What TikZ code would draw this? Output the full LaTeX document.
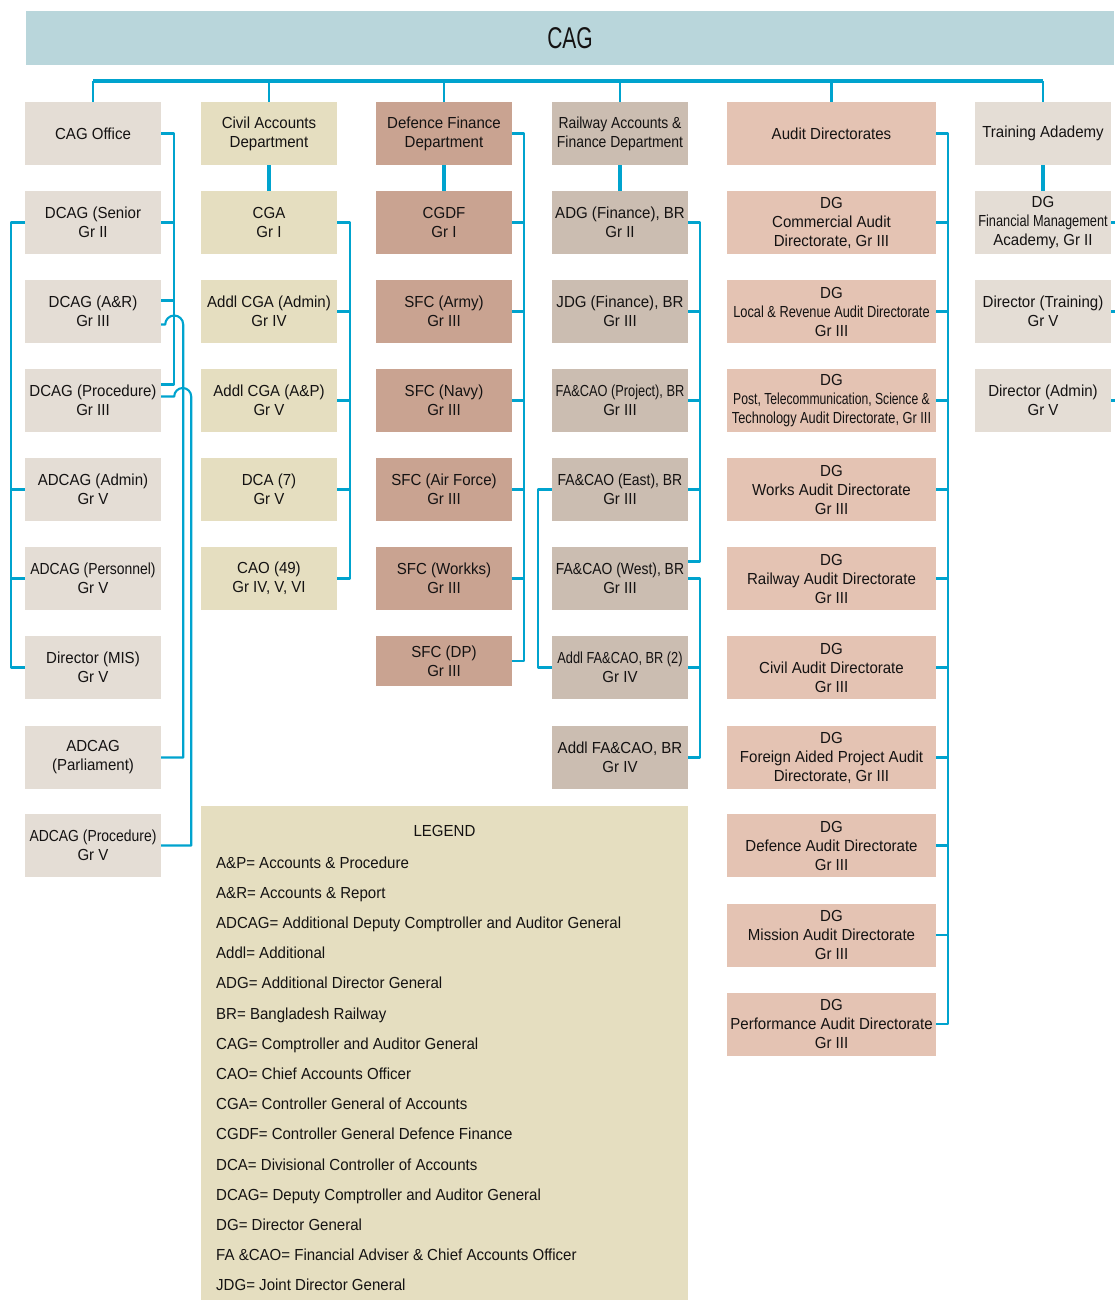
\documentclass[tikz,border=0pt]{standalone}
\usepackage{fontspec}
\setmainfont[FakeStretch=0.94]{Liberation Sans}
\newfontfamily\narfont[FakeStretch=0.8]{Liberation Sans}
\newfontfamily\tightfont[FakeStretch=0.76]{Liberation Sans}
\newfontfamily\midfont[FakeStretch=0.87]{Liberation Sans}
\newfontfamily\cagfont[FakeStretch=0.7]{Liberation Sans}
\usetikzlibrary{calc}
\definecolor{cagblue}{RGB}{185,214,219}
\definecolor{officegrey}{RGB}{228,221,213}
\definecolor{civilcream}{RGB}{229,222,192}
\definecolor{defbrown}{RGB}{201,163,145}
\definecolor{railgrey}{RGB}{203,189,177}
\definecolor{auditpink}{RGB}{228,195,179}
\definecolor{linkblue}{RGB}{0,163,206}
\definecolor{txt}{RGB}{20,18,18}

\begin{document}
\begin{tikzpicture}[x=1pt, y=1pt, font=\fontsize{16}{19}\selectfont, line join=round,
	box/.style={minimum width=136, minimum height=63, inner sep=0, align=center, text=txt},
	widebox/.style={box, minimum width=209},
	link/.style={draw=linkblue, line width=2.1},
	trunk/.style={draw=linkblue, line width=4.2},
	bus/.style={draw=linkblue, line width=3.8}]
	\def\ca{93} \def\cb{269} \def\cc{444} \def\cd{620} \def\ce{831.5} \def\cf{1043}
	\useasboundingbox (0,0) rectangle (1114,-1300);
	\node[fill=cagblue, minimum width=1088, minimum height=54, inner sep=0, text=txt, font=\cagfont\fontsize{30}{30}\selectfont] (cag) at (570,-38) {CAG};
	
	\node[box, fill=officegrey] (cagoff) at (\ca,-133.5) {CAG Office};
	\node[box, fill=officegrey] (dcags) at (\ca,-222.5) {DCAG (Senior\\Gr II};
	\node[box, fill=officegrey] (dcagar) at (\ca,-311.5) {DCAG (A\&R)\\Gr III};
	\node[box, fill=officegrey] (dcagpro) at (\ca,-400.5) {DCAG (Procedure)\\Gr III};
	\node[box, fill=officegrey] (adcagadm) at (\ca,-489.5) {ADCAG (Admin)\\Gr V};
	\node[box, fill=officegrey] (adcagpers) at (\ca,-578.5) {{\midfont ADCAG (Personnel)}\\Gr V};
	\node[box, fill=officegrey] (dirmis) at (\ca,-667.5) {Director (MIS)\\Gr V};
	\node[box, fill=officegrey] (adcagparl) at (\ca,-757.5) {ADCAG\\(Parliament)};
	\node[box, fill=officegrey] (adcagproc) at (\ca,-845.5) {{\midfont ADCAG (Procedure)}\\Gr V};
	
	\node[box, fill=civilcream] (civil) at (\cb,-133.5) {Civil Accounts\\Department};
	\node[box, fill=civilcream] (cga) at (\cb,-222.5) {CGA\\Gr I};
	\node[box, fill=civilcream] (acgaadm) at (\cb,-311.5) {Addl CGA (Admin)\\Gr IV};
	\node[box, fill=civilcream] (acgaap) at (\cb,-400.5) {Addl CGA (A\&P)\\Gr V};
	\node[box, fill=civilcream] (dca) at (\cb,-489.5) {DCA (7)\\Gr V};
	\node[box, fill=civilcream] (cao) at (\cb,-578.5) {CAO (49)\\Gr IV, V, VI};
	
	\node[box, fill=defbrown] (defence) at (\cc,-133.5) {Defence Finance\\Department};
	\node[box, fill=defbrown] (cgdf) at (\cc,-222.5) {CGDF\\Gr I};
	\node[box, fill=defbrown] (sfcarmy) at (\cc,-311.5) {SFC (Army)\\Gr III};
	\node[box, fill=defbrown] (sfcnavy) at (\cc,-400.5) {SFC (Navy)\\Gr III};
	\node[box, fill=defbrown] (sfcair) at (\cc,-489.5) {SFC (Air Force)\\Gr III};
	\node[box, fill=defbrown] (sfcworks) at (\cc,-578.5) {SFC (Workks)\\Gr III};
	\node[box, fill=defbrown, minimum height=50] (sfcdp) at (\cc,-661) {SFC (DP)\\Gr III};
	
	\node[box, fill=railgrey] (railway) at (\cd,-133.5) {{\midfont Railway Accounts \&}\\{\midfont Finance Department}};
	\node[box, fill=railgrey] (adg) at (\cd,-222.5) {ADG (Finance), BR\\Gr II};
	\node[box, fill=railgrey] (jdg) at (\cd,-311.5) {JDG (Finance), BR\\Gr III};
	\node[box, fill=railgrey] (faproj) at (\cd,-400.5) {{\narfont FA\&CAO (Project), BR}\\Gr III};
	\node[box, fill=railgrey] (faeast) at (\cd,-489.5) {{\midfont FA\&CAO (East), BR}\\Gr III};
	\node[box, fill=railgrey] (fawest) at (\cd,-578.5) {{\midfont FA\&CAO (West), BR}\\Gr III};
	\node[box, fill=railgrey] (addlfatwo) at (\cd,-667.5) {{\narfont Addl FA\&CAO, BR (2)}\\Gr IV};
	\node[box, fill=railgrey] (addlfa) at (\cd,-757.5) {Addl FA\&CAO, BR\\Gr IV};
	
	\node[widebox, fill=auditpink] (audit) at (\ce,-133.5) {Audit Directorates};
	\node[widebox, fill=auditpink] (dgcom) at (\ce,-222.5) {DG\\Commercial Audit\\Directorate, Gr III};
	\node[widebox, fill=auditpink] (dglocal) at (\ce,-311.5) {DG\\{\narfont Local \& Revenue Audit Directorate}\\Gr III};
	\node[widebox, fill=auditpink] (dgpost) at (\ce,-400.5) {DG\\{\tightfont Post, Telecommunication, Science \&}\\{\narfont Technology Audit Directorate, Gr III}};
	\node[widebox, fill=auditpink] (dgworks) at (\ce,-489.5) {DG\\Works Audit Directorate\\Gr III};
	\node[widebox, fill=auditpink] (dgrail) at (\ce,-578.5) {DG\\Railway Audit Directorate\\Gr III};
	\node[widebox, fill=auditpink] (dgcivil) at (\ce,-667.5) {DG\\Civil Audit Directorate\\Gr III};
	\node[widebox, fill=auditpink] (dgforeign) at (\ce,-757.5) {DG\\Foreign Aided Project Audit\\Directorate, Gr III};
	\node[widebox, fill=auditpink] (dgdef) at (\ce,-845.5) {DG\\Defence Audit Directorate\\Gr III};
	\node[widebox, fill=auditpink] (dgmission) at (\ce,-935) {DG\\Mission Audit Directorate\\Gr III};
	\node[widebox, fill=auditpink] (dgperf) at (\ce,-1024) {DG\\Performance Audit Directorate\\Gr III};
	
	\node[box, fill=officegrey] (train) at (\cf,-133.5) {Training Adademy};
	\node[box, fill=officegrey] (dgfma) at (\cf,-222.5) {DG\\{\narfont Financial Management}\\Academy, Gr II};
	\node[box, fill=officegrey] (dirtrain) at (\cf,-311.5) {Director (Training)\\Gr V};
	\node[box, fill=officegrey] (diradm) at (\cf,-400.5) {Director (Admin)\\Gr V};
	
	\node[fill=civilcream, minimum width=487, minimum height=494, inner sep=0] (legend) at (444.5,-1053) {};
	\node[text=txt] (legtitle) at (444.5,-831) {LEGEND};
	\foreach \t [count=\i] in {A\&P= Accounts \& Procedure, A\&R= Accounts \& Report,
		ADCAG= Additional Deputy Comptroller and Auditor General, Addl= Additional,
		ADG= Additional Director General, BR= Bangladesh Railway,
		CAG= Comptroller and Auditor General, CAO= Chief Accounts Officer,
		CGA= Controller General of Accounts, CGDF= Controller General Defence Finance,
		DCA= Divisional Controller of Accounts, DCAG= Deputy Comptroller and Auditor General,
		DG= Director General, FA \&CAO= Financial Adviser \& Chief Accounts Officer,
		JDG= Joint Director General}
	\node[text=txt, anchor=base west, inner sep=0] (leg\i) at (216,{-868-30.2*(\i-1)}) {\t};
	
	\coordinate (busy) at (0,-81);
	\draw[bus] (cagoff.north |- busy) -- (train.north |- busy);
	\foreach \n in {cagoff,civil,defence,railway,audit,train} \draw[link] (\n.north) -- (\n.north |- busy);
	
	\coordinate (ka) at (174,0); \coordinate (kb) at (11,0);
	\coordinate (pa) at ([yshift=16]dcagpro.east);
	\coordinate (pb) at ([yshift=-13]dcagar.east);
	\coordinate (pc) at ([yshift=4]dcagpro.east);
	\coordinate (pe) at ([yshift=11]dcagar.east);
	\draw[link] (cagoff.east) -| (ka |- pa) -- (pa);
	\draw[link] (dcags.east) -- (dcags.east -| ka) (pe) -- (pe -| ka);
	\draw[link] (pb) -- ++(4,0) arc[start angle=180, end angle=0, radius=9pt] |- (adcagparl.east);
	\draw[link] (pc) -- ++(13,0) arc[start angle=180, end angle=0, radius=8.5pt] |- (adcagproc.east);
	\draw[link] (dcags.west) -| (kb |- dirmis.west) -- (dirmis.west);
	\foreach \n in {adcagadm,adcagpers} \draw[link] (\n.west) -- (\n.west -| kb);
	
	\draw[trunk] (civil.south) -- (cga.north);
	\coordinate (kc) at (350,0);
	\draw[link] (cga.east) -| (kc |- cao.east) -- (cao.east);
	\foreach \n in {acgaadm,acgaap,dca} \draw[link] (\n.east) -- (\n.east -| kc);
	
	\draw[trunk] (defence.south) -- (cgdf.north);
	\coordinate (kd) at (524,0);
	\draw[link] (defence.east) -| (kd |- sfcdp.east) -- (sfcdp.east);
	\foreach \n in {cgdf,sfcarmy,sfcnavy,sfcair,sfcworks} \draw[link] (\n.east) -- (\n.east -| kd);
	
	\draw[trunk] (railway.south) -- (adg.north);
	\coordinate (ke) at (700,0); \coordinate (kf) at (538,0);
	\coordinate (pd) at ([yshift=17]fawest.east);
	\draw[link] (adg.east) -| (ke |- pd) -- (pd);
	\foreach \n in {jdg,faproj,faeast} \draw[link] (\n.east) -- (\n.east -| ke);
	\draw[link] (fawest.east) -| (ke |- addlfa.east) -- (addlfa.east);
	\draw[link] (addlfatwo.east) -- (addlfatwo.east -| ke);
	\draw[link] (faeast.west) -| (kf |- addlfatwo.west) -- (addlfatwo.west);
	
	\coordinate (kg) at (948,0);
	\draw[link] (audit.east) -| (kg |- dgperf.east) -- (dgperf.east);
	\foreach \n in {dgcom,dglocal,dgpost,dgworks,dgrail,dgcivil,dgforeign,dgdef,dgmission} \draw[link] (\n.east) -- (\n.east -| kg);
	
	\draw[trunk] (train.south) -- (dgfma.north);
	\coordinate (kh) at (1116,0);
	\foreach \n in {dgfma,dirtrain,diradm} \draw[link] (\n.east) -- (\n.east -| kh);
\end{tikzpicture}
\end{document}
